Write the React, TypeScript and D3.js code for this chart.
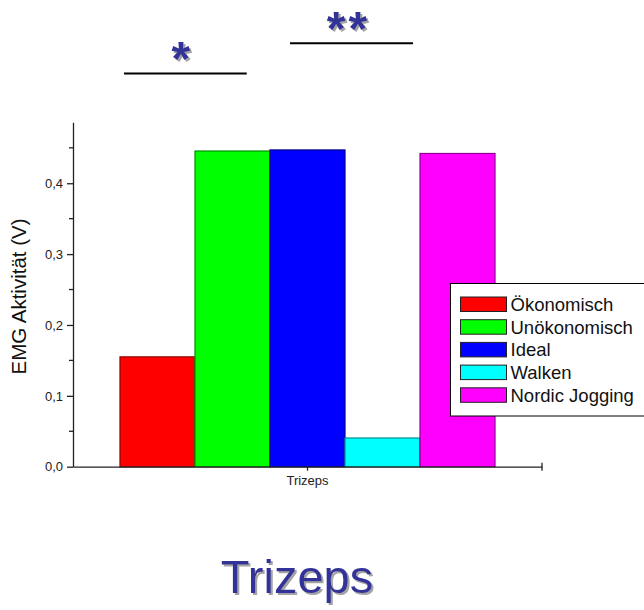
import React, { useEffect, useRef } from "react";
import * as d3 from "d3";

const categories = ["Trizeps"];
const seriesNames = ["Ökonomisch", "Unökonomisch", "Ideal", "Walken", "Nordic Jogging"];
const seriesValues = [0.155, 0.4455, 0.447, 0.0405, 0.442];
const seriesColors = ["#ff0000", "#00ff00", "#0000ff", "#00ffff", "#ff00ff"];
const majorTicks = [0, 0.1, 0.2, 0.3, 0.4];
const minorTicks = [0.05, 0.15, 0.25, 0.35, 0.45];
const yMax = 0.486;
const yLabel = "EMG Aktivität (V)";
const title = "Trizeps";
const sigLabels = ["*", "**"];
const sigFrom = [0.053, 2.267];
const sigTo = [1.69, 3.907];
const sigLevel = [0.555, 0.5975];

const W = 644;
const H = 610;
const FONT = "Arial, 'Liberation Sans', sans-serif";

export default function App() {
  const ref = useRef<SVGSVGElement>(null);

  useEffect(() => {
    const svg = d3.select(ref.current);
    svg.selectAll("*").remove();

    const defs = svg.append("defs");
    const f = defs
      .append("filter")
      .attr("id", "shadow")
      .attr("x", "-20%")
      .attr("y", "-20%")
      .attr("width", "140%")
      .attr("height", "140%");
    f.append("feDropShadow")
      .attr("dx", 2)
      .attr("dy", 2)
      .attr("stdDeviation", 0.6)
      .attr("flood-color", "#9a9a9a")
      .attr("flood-opacity", 0.9);

    const left = 73;
    const right = 542;
    const y = d3.scaleLinear().domain([0, yMax]).range([466.7, 122.3]);
    const x = d3
      .scaleBand<string>()
      .domain(categories)
      .range([left, right])
      .paddingInner(0)
      .paddingOuter(0.1253);
    const xs = d3
      .scaleBand<string>()
      .domain(seriesNames)
      .range([0, x.bandwidth()])
      .padding(0);

    // bars
    const g = svg.append("g");
    categories.forEach((cat) => {
      g.selectAll("rect.bar")
        .data(seriesValues)
        .enter()
        .append("rect")
        .attr("x", (_, i) => (x(cat) as number) + (xs(seriesNames[i]) as number))
        .attr("y", (d) => y(d))
        .attr("width", xs.bandwidth())
        .attr("height", (d) => y(0) - y(d))
        .attr("fill", (_, i) => seriesColors[i])
        .attr("stroke", (_, i) => d3.color(seriesColors[i])!.darker(1.6).formatHex())
        .attr("stroke-width", 1.2);
    });

    // y axis
    const yAxis = svg.append("g").attr("transform", `translate(${left},0)`);
    yAxis.call(
      d3
        .axisLeft(y)
        .tickValues(majorTicks)
        .tickSize(6)
        .tickSizeOuter(0)
        .tickPadding(4)
        .tickFormat((d) => d3.format(".1f")(d as number).replace(".", ","))
    );
    yAxis.selectAll("text").attr("font-family", FONT).attr("font-size", 13).attr("fill", "#222");
    yAxis.select(".domain").attr("stroke", "#222").attr("stroke-width", 1.3);
    yAxis.selectAll(".tick line").attr("stroke", "#222").attr("stroke-width", 1.3);
    yAxis
      .selectAll("line.minor")
      .data(minorTicks)
      .enter()
      .append("line")
      .attr("x1", -4)
      .attr("x2", 0)
      .attr("y1", (d) => y(d))
      .attr("y2", (d) => y(d))
      .attr("stroke", "#222")
      .attr("stroke-width", 1.3);

    // x axis
    const xAxis = svg.append("g").attr("transform", `translate(0,${y(0)})`);
    xAxis.call(d3.axisBottom(x).tickSize(4).tickSizeOuter(0).tickPadding(5));
    xAxis.selectAll("text").attr("font-family", FONT).attr("font-size", 13).attr("fill", "#222");
    xAxis.select(".domain").attr("stroke", "#222").attr("stroke-width", 1.3);
    xAxis.selectAll(".tick line").attr("stroke", "#222").attr("stroke-width", 1.3);
    xAxis
      .append("line")
      .attr("x1", right)
      .attr("x2", right)
      .attr("y1", -4)
      .attr("y2", 4)
      .attr("stroke", "#222")
      .attr("stroke-width", 1.3);

    // y label
    svg
      .append("text")
      .attr("transform", `translate(26,${(y(0) + y(yMax)) / 2 + 2}) rotate(-90)`)
      .attr("text-anchor", "middle")
      .attr("font-family", FONT)
      .attr("font-size", 20.5)
      .attr("fill", "#111")
      .text(yLabel);

    // significance markers
    const seriesX = (v: number) =>
      (x(categories[0]) as number) + (xs(seriesNames[0]) as number) + v * xs.bandwidth();
    sigLabels.forEach((label, i) => {
      const x1 = seriesX(sigFrom[i]);
      const x2 = seriesX(sigTo[i]);
      const ly = y(sigLevel[i]);
      svg
        .append("line")
        .attr("x1", x1)
        .attr("x2", x2)
        .attr("y1", ly)
        .attr("y2", ly)
        .attr("stroke", "#000")
        .attr("stroke-width", 2);
      svg
        .append("text")
        .attr("x", (x1 + x2) / 2 - 3)
        .attr("y", ly + 2)
        .attr("text-anchor", "middle")
        .attr("font-family", FONT)
        .attr("font-weight", "bold")
        .attr("font-size", 48)
        .attr("letter-spacing", 3)
        .attr("fill", "#333399")
        .attr("filter", "url(#shadow)")
        .text(label);
    });

    // legend
    const lg = svg.append("g").attr("transform", "translate(450.5,283.5)");
    lg.append("rect")
      .attr("width", 210)
      .attr("height", 132.5)
      .attr("fill", "#fff")
      .attr("stroke", "#000")
      .attr("stroke-width", 1);
    seriesNames.forEach((name, i) => {
      const row = lg.append("g").attr("transform", `translate(10,${13.5 + i * 22.7})`);
      row
        .append("rect")
        .attr("width", 46)
        .attr("height", 14.5)
        .attr("fill", seriesColors[i])
        .attr("stroke", "#222")
        .attr("stroke-width", 1);
      row
        .append("text")
        .attr("x", 50)
        .attr("y", 13.8)
        .attr("font-family", FONT)
        .attr("font-size", 18.5)
        .attr("fill", "#111")
        .text(name);
    });

    // title
    svg
      .append("text")
      .attr("x", 297)
      .attr("y", 593)
      .attr("text-anchor", "middle")
      .attr("font-family", FONT)
      .attr("font-size", 47)
      .attr("fill", "#333399")
      .attr("filter", "url(#shadow)")
      .text(title);
  }, []);

  return (
    <svg
      ref={ref}
      width={W}
      height={H}
      style={{ position: "absolute", left: 0, top: 0, background: "#fff" }}
    />
  );
}
